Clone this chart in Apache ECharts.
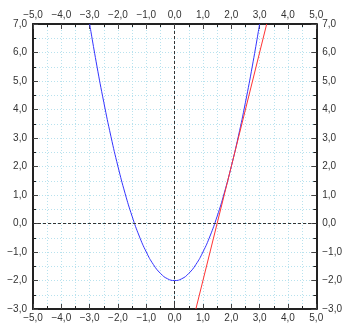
<!DOCTYPE html>
<html>
<head>
<meta charset="utf-8">
<script src="https://cdn.jsdelivr.net/npm/echarts@6/dist/echarts.min.js"></script>
<style>
  html, body { margin: 0; padding: 0; background: #fff; }
  #chart { width: 345px; height: 323px; }
</style>
</head>
<body>
<div id="chart"></div>
<script>
// parabola points
const curveX = [-3, -2.75, -2.5, -2.25, -2, -1.75, -1.5, -1.25, -1, -0.75, -0.5, -0.25, 0,
  0.25, 0.5, 0.75, 1, 1.25, 1.5, 1.75, 2, 2.25, 2.5, 2.75, 3];
const curveY = [7, 5.56, 4.25, 3.06, 2, 1.06, 0.25, -0.44, -1, -1.44, -1.75, -1.94, -2,
  -1.94, -1.75, -1.44, -1, -0.44, 0.25, 1.06, 2, 3.06, 4.25, 5.56, 7];
// red straight line end points
const lineX = [0.75, 3.25];
const lineY = [-3, 7];

const xRange = [-5, 5];
const yRange = [-3, 7];

const fmt = v => (v < 0 ? "\u2212" : "") + Math.abs(v).toFixed(1).replace(".", ",");

const chart = echarts.init(document.getElementById("chart"), null, { renderer: "canvas" });

function axis(type, pos, range, showGrid) {
  return {
    type: "value",
    position: pos,
    min: range[0],
    max: range[1],
    interval: 1,
    axisLine: { show: true, onZero: false, lineStyle: { color: "#222", width: 2 } },
    axisTick: { show: true, inside: true, length: 5, lineStyle: { color: "#444" } },
    minorTick: { show: true, splitNumber: 2, length: 3, lineStyle: { color: "#222" } },
    axisLabel: {
      formatter: fmt,
      color: "#333",
      fontSize: 10,
      fontFamily: "Liberation Sans",
      margin: type === "x" ? 4 : 6,
      showMinLabel: true,
      showMaxLabel: true,
    },
    splitLine: {
      show: showGrid,
      lineStyle: { color: "#b8e2ee", type: [1, 2], width: 1 },
    },
    minorSplitLine: {
      show: showGrid,
      lineStyle: { color: "#b8e2ee", type: [1, 2], width: 1 },
    },
  };
}

const option = {
  animation: false,
  backgroundColor: "#fff",
  grid: { left: 33, right: 28, top: 24, bottom: 14 },
  xAxis: [axis("x", "bottom", xRange, true), axis("x", "top", xRange, false)],
  yAxis: [axis("y", "left", yRange, true), axis("y", "right", yRange, false)],
  series: [
    {
      type: "line",
      data: curveX.map((x, i) => [x, curveY[i]]),
      smooth: true,
      symbol: "none",
      lineStyle: { color: "#3333ff", width: 1 },
      markLine: {
        silent: true,
        symbol: "none",
        label: { show: false },
        lineStyle: { color: "#333", type: [3, 2], width: 1 },
        data: [{ xAxis: 0 }, { yAxis: 0 }],
      },
    },
    {
      type: "line",
      data: lineX.map((x, i) => [x, lineY[i]]),
      symbol: "none",
      lineStyle: { color: "#ff3333", width: 1 },
    },
  ],
};

chart.setOption(option);
</script>
</body>
</html>
